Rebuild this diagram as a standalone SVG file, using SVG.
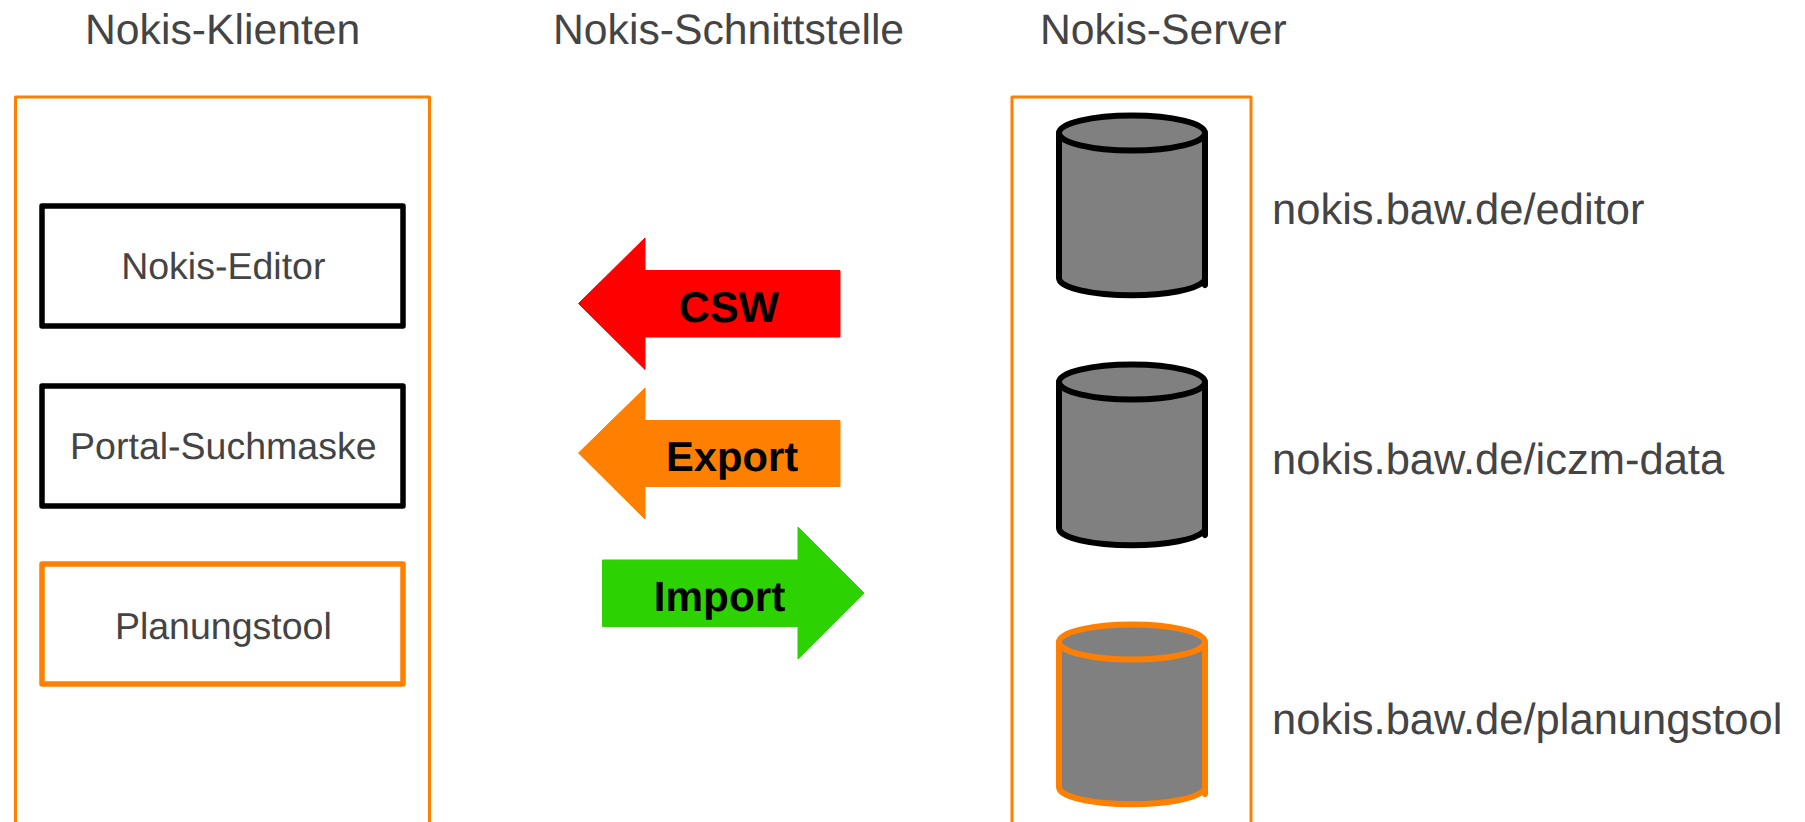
<svg xmlns="http://www.w3.org/2000/svg" width="1805" height="822" viewBox="0 0 1805 822">
<style>
text{font-family:"Liberation Sans",Arial,sans-serif;text-rendering:geometricPrecision}
.t{font-size:42.700px;fill:#444}
.u{font-size:43.500px;fill:#444}
.l{font-size:37.500px;fill:#444;text-anchor:middle}
.a{font-size:41.700px;font-weight:bold;fill:#000;text-anchor:middle}
.panel{fill:none;stroke:#ff8000;stroke-width:3;stroke-linejoin:round}
.box{fill:#fff;stroke-width:5.500;stroke-linejoin:round}
.k{stroke:#000}.o{stroke:#ff8000}
.cyl{fill:#808080;stroke-width:6;stroke-linejoin:round}
.arrow{stroke-width:1;stroke-linejoin:round}
</style>
<rect width="1805" height="822" fill="#fff"/>
<g id="titles">
<text class="t" x="85" y="44">Nokis-Klienten</text>
<text class="t" x="553" y="44">Nokis-Schnittstelle</text>
<text class="t" x="1040" y="44">Nokis-Server</text>
</g>
<g id="panel-clients"><path class="panel" d="M15.500 830V97H429.500V830"/></g>
<g id="panel-server"><path class="panel" d="M1012 830V97H1251V830"/></g>
<g id="node-editor"><rect class="box k" x="42" y="206" width="361" height="120"/><text class="l" x="223.300" y="279">Nokis-Editor</text></g>
<g id="node-portal"><rect class="box k" x="42" y="386" width="361" height="120"/><text class="l" x="223.300" y="459">Portal-Suchmaske</text></g>
<g id="node-planung"><rect class="box o" x="42" y="564" width="361" height="120"/><text class="l" x="223.300" y="639">Planungstool</text></g>
<g id="connectors">
<g id="arrow-csw"><path class="arrow" fill="#ff0000" stroke="#ff0000" d="M578.500 303.500L645 238V270.500H840V337H645V369.500Z"/><text class="a" style="font-size:43px" x="729" y="322">CSW</text></g>
<g id="arrow-export"><path class="arrow" fill="#ff8000" stroke="#ff8000" d="M578.500 453L645 388V420.500H840V486.500H645V519Z"/><text class="a" x="732" y="471">Export</text></g>
<g id="arrow-import"><path class="arrow" fill="#2dd300" stroke="#2dd300" d="M864 593L798 527V560H602.500V626.500H798V659Z"/><text class="a" style="font-size:42.300px" x="719.500" y="611">Import</text></g>
</g>
<g id="db-editor"><path class="cyl k" d="M1059 133V278C1059 288 1092 295.300 1132 295.300C1168 295.300 1196 289 1203 282L1205 285V133"/><ellipse class="cyl k" cx="1132" cy="133" rx="73" ry="17.500"/><text class="u" x="1272" y="224.300">nokis.baw.de/editor</text></g>
<g id="db-iczm"><path class="cyl k" d="M1059 382V528C1059 538 1092 545.300 1132 545.300C1168 545.300 1196 539 1203 532L1205 535V382"/><ellipse class="cyl k" cx="1132" cy="382" rx="73" ry="17.500"/><text class="u" x="1272" y="473.700">nokis.baw.de/iczm-data</text></g>
<g id="db-planung"><path class="cyl o" d="M1059 642V787C1059 797 1092 804.300 1132 804.300C1168 804.300 1196 798 1203 791L1205 794V642"/><ellipse class="cyl o" cx="1132" cy="642" rx="73" ry="17.500"/><text class="u" x="1272" y="733.500">nokis.baw.de/planungstool</text></g>
</svg>
